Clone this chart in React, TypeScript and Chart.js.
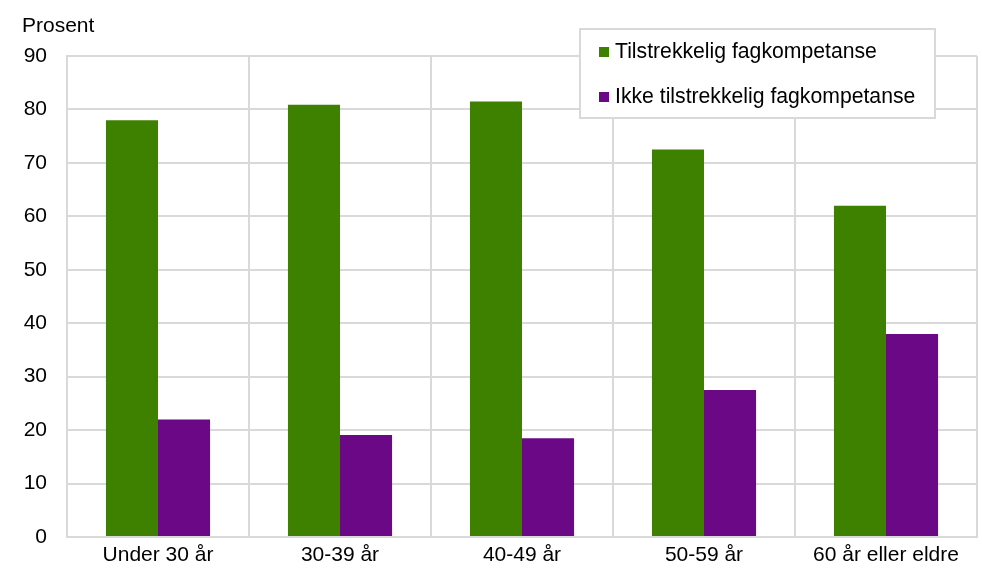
import React, { useEffect, useRef } from "react";
import { Chart, registerables } from "chart.js";

Chart.register(...registerables);

const categories = ["Under 30 år", "30-39 år", "40-49 år", "50-59 år", "60 år eller eldre"];
const sufficient = [78.0, 80.9, 81.5, 72.5, 62.0];
const insufficient = [22.0, 19.1, 18.5, 27.5, 38.0];
const seriesNames = ["Tilstrekkelig fagkompetanse", "Ikke tilstrekkelig fagkompetanse"];
const yAxisTitle = "Prosent";

const FONT = "Arial, 'Liberation Sans', sans-serif";
const GREEN = "#3e8000";
const PURPLE = "#6a0886";
const GRID = "#d9d9d9";

const overlayPlugin = {
  id: "overlay",
  afterDraw(chart: any) {
    const ctx = chart.ctx;
    ctx.save();
    ctx.font = `21px ${FONT}`;
    ctx.fillStyle = "#000";
    ctx.textBaseline = "alphabetic";
    ctx.textAlign = "left";
    ctx.fillText(yAxisTitle, 22, 32);

    // legend box
    const bx = 580, by = 29, bw = 355, bh = 89;
    ctx.fillStyle = "#fff";
    ctx.fillRect(bx, by, bw, bh);
    ctx.strokeStyle = GRID;
    ctx.lineWidth = 2;
    ctx.strokeRect(bx, by, bw, bh);
    ctx.font = `21.2px ${FONT}`;
    chart.data.datasets.forEach((ds: any, i: number) => {
      const cy = 52 + i * 45;
      ctx.fillStyle = ds.backgroundColor;
      ctx.fillRect(599, cy - 5, 10, 10);
      ctx.fillStyle = "#000";
      ctx.textBaseline = "middle";
      ctx.fillText(ds.label, 615, cy);
    });
    ctx.restore();
  },
};

export default function App() {
  const ref = useRef<HTMLCanvasElement>(null);
  useEffect(() => {
    document.body.style.margin = "0";
    const chart = new Chart(ref.current!, {
      type: "bar",
      data: {
        labels: categories,
        datasets: [
          { label: seriesNames[0], data: sufficient, backgroundColor: GREEN },
          { label: seriesNames[1], data: insufficient, backgroundColor: PURPLE },
        ],
      },
      options: {
        animation: false,
        responsive: false,
        maintainAspectRatio: false,
        layout: { padding: { top: 56, right: 5, left: 0, bottom: 0 } },
        plugins: { legend: { display: false }, tooltip: { enabled: false }, title: { display: false } },
        datasets: { bar: { categoryPercentage: 0.572, barPercentage: 1 } },
        scales: {
          x: {
            grid: { color: GRID, lineWidth: 2, drawTicks: false, offset: true },
            border: { color: GRID, width: 2 },
            ticks: { color: "#000", font: { family: FONT, size: 21 }, padding: 6, maxRotation: 0 },
            afterFit(scale: any) { scale.height = 42; },
          },
          y: {
            min: 0,
            max: 90,
            ticks: { stepSize: 10, color: "#000", font: { family: FONT, size: 21 }, padding: 20 },
            grid: { color: GRID, lineWidth: 2, drawTicks: false },
            border: { color: GRID, width: 2 },
            afterFit(scale: any) { scale.width = 67; },
          },
        },
      },
      plugins: [overlayPlugin],
    } as any);
    return () => chart.destroy();
  }, []);
  return (
    <div style={{ position: "absolute", left: 0, top: 0, width: 982, height: 579 }}>
      <canvas ref={ref} width={982} height={579} style={{ width: 982, height: 579 }} />
    </div>
  );
}
